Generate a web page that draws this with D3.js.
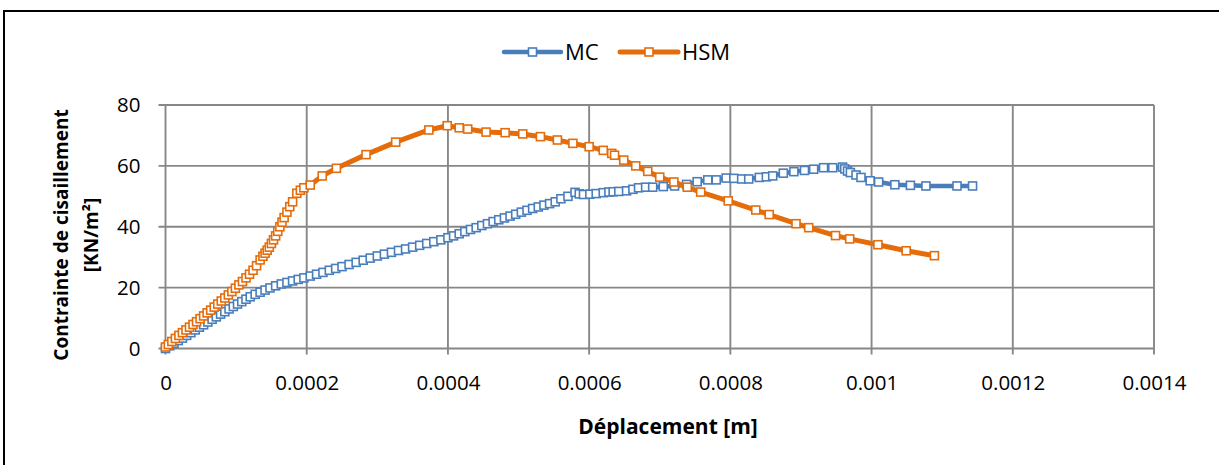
<!DOCTYPE html>
<html>
<head>
<meta charset="UTF-8">
<title>Contrainte de cisaillement</title>
<style>
  body { margin: 0; background: #fff; }
  svg { display: block; font-family: "Open Sans", Lato, sans-serif; }
</style>
</head>
<body>
<svg width="1219" height="465"></svg>
<script src="https://cdn.jsdelivr.net/npm/d3@7"></script>
<script>
// series names
var seriesNames = ["MC", "HSM"];

// MC : displacement [m] / shear stress [kN/m2]
var mcX = [0, 0.000006, 0.000012, 0.000018, 0.000024, 0.00003, 0.000036, 0.000042, 0.000048, 0.000054,
  0.00006, 0.000066, 0.000072, 0.000078, 0.000084, 0.00009, 0.000096, 0.000102, 0.000108, 0.000114,
  0.00012, 0.000127, 0.000134, 0.000141, 0.000148, 0.000156, 0.000164, 0.000172, 0.00018, 0.000188,
  0.000196, 0.000205, 0.000214, 0.000223, 0.000232, 0.000241, 0.00025, 0.00026, 0.00027, 0.00028,
  0.00029, 0.0003, 0.00031, 0.00032, 0.00033, 0.00034, 0.00035, 0.00036, 0.00037, 0.00038,
  0.00039, 0.0004, 0.000408, 0.000416, 0.000424, 0.000432, 0.00044, 0.000448, 0.000456, 0.000464,
  0.000472, 0.00048, 0.000488, 0.000496, 0.000504, 0.000512, 0.00052, 0.000528, 0.000536, 0.000544,
  0.000552, 0.00056, 0.00057, 0.00058, 0.000586, 0.000592, 0.000601, 0.00061, 0.00062, 0.000628,
  0.000634, 0.000642, 0.000653, 0.000662, 0.00067, 0.00068, 0.00069, 0.000705, 0.000721, 0.000738,
  0.000753, 0.000768, 0.00078, 0.000794, 0.000805, 0.000816, 0.000826, 0.000841, 0.000851, 0.00086,
  0.000875, 0.00089, 0.000905, 0.000918, 0.000932, 0.000945, 0.000959, 0.000962, 0.000966, 0.00097,
  0.000978, 0.000985, 0.000998, 0.00101, 0.001033, 0.001055, 0.001077, 0.001121, 0.001143];
var mcY = [0, 0.9, 1.7, 2.6, 3.4, 4.3, 5.2, 6.1, 7.0, 7.8,
  8.7, 9.6, 10.4, 11.3, 12.1, 13.0, 13.8, 14.6, 15.4, 16.2,
  17.0, 17.8, 18.5, 19.2, 19.9, 20.6, 21.2, 21.7, 22.2, 22.7,
  23.2, 23.8, 24.4, 25.0, 25.7, 26.3, 26.9, 27.6, 28.3, 29.0,
  29.7, 30.4, 31.0, 31.6, 32.2, 32.7, 33.3, 33.9, 34.5, 35.1,
  35.7, 36.4, 37.0, 37.7, 38.4, 39.1, 39.7, 40.4, 41.0, 41.7,
  42.3, 42.9, 43.5, 44.1, 44.8, 45.4, 46.0, 46.5, 47.1, 47.6,
  48.2, 49.2, 50.0, 51.3, 50.8, 50.6, 50.7, 50.9, 51.2, 51.4,
  51.5, 51.6, 51.8, 52.3, 52.8, 53.0, 53.0, 53.2, 53.4, 53.9,
  54.8, 55.4, 55.4, 56.0, 55.9, 55.7, 55.7, 56.2, 56.4, 56.7,
  57.6, 58.1, 58.5, 58.9, 59.4, 59.4, 59.6, 59.0, 58.3, 57.8,
  57.0, 56.2, 55.1, 54.7, 53.8, 53.6, 53.4, 53.4, 53.4];

// HSM
var hsmX = [0, 0.000004, 0.000009, 0.000014, 0.000019, 0.000024, 0.000029, 0.000034, 0.000039, 0.000044,
  0.000049, 0.000054, 0.000059, 0.000064, 0.000069, 0.000074, 0.000079, 0.000084, 0.000089, 0.000094,
  0.000099, 0.000104, 0.000109, 0.000114, 0.000119, 0.000124, 0.000129, 0.000134, 0.000138, 0.000141,
  0.000144, 0.000147, 0.00015, 0.000153, 0.000156, 0.000159, 0.000162, 0.000165, 0.000168, 0.000172,
  0.000176, 0.00018, 0.000186, 0.000191, 0.000196, 0.000205, 0.000222, 0.000242, 0.000284, 0.000326,
  0.000373, 0.000399, 0.000416, 0.000428, 0.000454, 0.000481, 0.000506, 0.000531, 0.000555, 0.000577,
  0.0006, 0.00062, 0.000632, 0.000636, 0.000649, 0.000666, 0.000683, 0.0007, 0.00072, 0.000739,
  0.000758, 0.000797, 0.000836, 0.000855, 0.000893, 0.000911, 0.000949, 0.000969, 0.001009, 0.001049,
  0.001089];
var hsmY = [0.5, 1.3, 2.3, 3.3, 4.3, 5.2, 6.1, 7.0, 7.9, 8.8,
  9.8, 10.7, 11.7, 12.6, 13.6, 14.6, 15.6, 16.6, 17.6, 18.7,
  19.8, 20.9, 22.0, 23.2, 24.4, 25.7, 27.2, 29.1, 30.3, 31.3,
  32.3, 33.3, 34.5, 35.7, 37.0, 38.5, 40.0, 41.5, 43.0, 44.8,
  46.6, 48.2, 51.0, 52.0, 52.8, 53.7, 56.7, 59.2, 63.7, 67.8,
  71.8, 73.2, 72.5, 72.1, 71.1, 70.9, 70.5, 69.6, 68.5, 67.4,
  66.3, 65.1, 64.1, 63.5, 61.9, 60.0, 58.2, 56.3, 54.7, 53.0,
  51.4, 48.5, 45.5, 44.0, 41.0, 39.7, 37.1, 36.0, 34.1, 32.1,
  30.5];

var xTicks = [0, 0.0002, 0.0004, 0.0006, 0.0008, 0.001, 0.0012, 0.0014];
var yTicks = [0, 20, 40, 60, 80];
var colors = ["#4a7ebb", "#e46c0a"];

var svg = d3.select("svg");

// outer frame (right/bottom fall outside the picture)
svg.append("rect").attr("x", 4).attr("y", 11).attr("width", 1300).attr("height", 600)
  .attr("fill", "none").attr("stroke", "#000").attr("stroke-width", 2);

var plotLeft = 165.5, plotTop = 105, plotW = 988.5, plotH = 243.5;
var x = d3.scaleLinear().domain([0, 0.0014]).range([plotLeft, plotLeft + plotW]);
var y = d3.scaleLinear().domain([0, 80]).range([plotTop + plotH, plotTop]);

// grid
var grid = svg.append("g").attr("stroke", "#878787").attr("stroke-width", 1.9);
grid.selectAll(".gx").data(xTicks).join("line").attr("class", "gx")
  .attr("x1", d => x(d)).attr("x2", d => x(d))
  .attr("y1", plotTop).attr("y2", plotTop + plotH + 6);
grid.selectAll(".gy").data(yTicks).join("line").attr("class", "gy")
  .attr("x1", plotLeft - 7).attr("x2", plotLeft + plotW)
  .attr("y1", d => y(d)).attr("y2", d => y(d));

// tick labels via axes
var xAxis = svg.append("g").attr("transform", "translate(0," + (plotTop + plotH) + ")")
  .call(d3.axisBottom(x).tickValues(xTicks).tickSize(0).tickPadding(27).tickFormat(d => String(+d.toFixed(4))));
var yAxis = svg.append("g").attr("transform", "translate(" + plotLeft + ",0)")
  .call(d3.axisLeft(y).tickValues(yTicks).tickSize(0).tickPadding(25));
[xAxis, yAxis].forEach(function(a) {
  a.select(".domain").remove();
  a.selectAll("text").attr("font-size", 20.5).attr("fill", "#000")
    .attr("font-family", "'Open Sans', Lato, sans-serif");
});

// series
var series = [
  { name: seriesNames[0], xs: mcX, ys: mcY, color: colors[0], w: 4.5 },
  { name: seriesNames[1], xs: hsmX, ys: hsmY, color: colors[1], w: 5 }
];
var line = d3.line().x(d => x(d[0])).y(d => y(d[1]));

series.forEach(function(s) {
  var pts = s.xs.map((v, i) => [v, s.ys[i]]);
  var g = svg.append("g");
  g.append("path").datum(pts).attr("d", line)
    .attr("fill", "none").attr("stroke", s.color).attr("stroke-width", s.w)
    .attr("stroke-linejoin", "round").attr("stroke-linecap", "round");
  g.selectAll("rect").data(pts).join("rect")
    .attr("x", d => x(d[0]) - 4).attr("y", d => y(d[1]) - 4)
    .attr("width", 8).attr("height", 8)
    .attr("fill", "#fff").attr("stroke", s.color).attr("stroke-width", 1.6);
});

// legend
var legendPos = [{ x0: 504, x1: 561, tx: 565 }, { x0: 620, x1: 678, tx: 682 }];
series.forEach(function(s, i) {
  var p = legendPos[i], ly = 52;
  svg.append("line").attr("x1", p.x0).attr("x2", p.x1).attr("y1", ly).attr("y2", ly)
    .attr("stroke", s.color).attr("stroke-width", s.w).attr("stroke-linecap", "round");
  svg.append("rect").attr("x", (p.x0 + p.x1) / 2 - 4).attr("y", ly - 4)
    .attr("width", 8).attr("height", 8)
    .attr("fill", "#fff").attr("stroke", s.color).attr("stroke-width", 1.6);
  svg.append("text").attr("x", p.tx).attr("y", ly).attr("dy", "0.36em")
    .attr("font-size", 22).attr("fill", "#000").text(s.name);
});

// axis titles
svg.append("text").attr("x", 668).attr("y", 434)
  .attr("text-anchor", "middle").attr("font-size", 21).attr("font-weight", "bold")
  .text("Déplacement [m]");
var yt = svg.append("text").attr("transform", "translate(0,235) rotate(-90)")
  .attr("text-anchor", "middle").attr("font-size", 19).attr("font-weight", "bold");
yt.append("tspan").attr("x", 0).attr("y", 68).text("Contrainte de cisaillement");
yt.append("tspan").attr("x", 0).attr("y", 98).text("[KN/m²]");
</script>
</body>
</html>
